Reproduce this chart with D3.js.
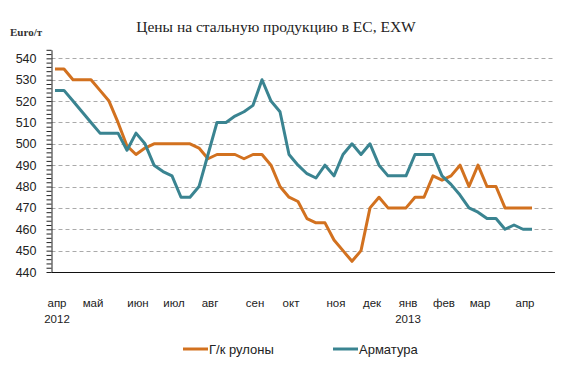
<!DOCTYPE html>
<html>
<head>
<meta charset="utf-8">
<script src="https://cdn.jsdelivr.net/npm/d3@7"></script>
<style>
  body { margin: 0; background: #fff; }
  svg { display: block; }
</style>
</head>
<body>
<script>
const w = 580,
	h = 380;

// weekly prices, apr 2012 - apr 2013
const coils = [535, 535, 530, 530, 530, 525, 520, 510, 499, 495, 498, 500, 500, 500, 500, 500, 498, 493,
	495, 495, 495, 493, 495, 495, 490, 480, 475, 473, 465, 463, 463, 455, 450, 445, 450, 470, 475, 470,
	470, 470, 475, 475, 485, 483, 485, 490, 480, 490, 480, 480, 470, 470, 470, 470];
const rebar = [525, 525, 520, 515, 510, 505, 505, 505, 497, 505, 500, 490, 487, 485, 475, 475, 480, 495,
	510, 510, 513, 515, 518, 530, 520, 515, 495, 490, 486, 484, 490, 485, 495, 500, 495, 500, 490, 485,
	485, 485, 495, 495, 495, 485, 481, 476, 470, 468, 465, 465, 460, 462, 460, 460];

const monthLabels = ['апр', 'май', 'июн', 'июл', 'авг', 'сен', 'окт', 'ноя', 'дек', 'янв', 'фев', 'мар', 'апр'];
const monthWeeks = [0, 4, 9, 13, 17, 22, 26, 31, 35, 39, 43, 47, 52];
const yearLabels = ['2012', '2013'];
const yearWeeks = [0, 39];
const gridValues = [450, 460, 470, 480, 490, 500, 510, 520, 530, 540];

const seriesNames = ['Г/к рулоны', 'Арматура'];
const colors = ['#d2711f', '#3a8491'];

const left = 51.5,
	right = 555,
	bottom = 272;

const svg = d3.select('body')
	.append('svg')
	.attr('width', w)
	.attr('height', h);

const x = d3.scaleLinear()
	.domain([0, coils.length - 1])
	.range([55, 532]);

const y = d3.scaleLinear()
	.domain([440, 544])
	.range([bottom, 49.8]);

//title
svg.append('text')
	.attr('x', 276)
	.attr('y', 32)
	.attr('text-anchor', 'middle')
	.style('font-family', '"Liberation Serif", serif')
	.style('font-size', '15.5px')
	.style('fill', '#222')
	.text('Цены на стальную продукцию в ЕС, EXW');

svg.append('text')
	.attr('x', 10)
	.attr('y', 36)
	.style('font-family', '"Liberation Serif", serif')
	.style('font-size', '11px')
	.style('font-weight', 'bold')
	.style('fill', '#333')
	.text('Euro/т');

//grid lines
svg.append('g')
	.selectAll('line')
	.data(gridValues)
	.enter()
	.append('line')
	.attr('x1', left)
	.attr('x2', right)
	.attr('y1', (d) => Math.round(y(d)) + 0.5)
	.attr('y2', (d) => Math.round(y(d)) + 0.5)
	.attr('stroke', '#aaa')
	.attr('stroke-dasharray', '4,3');

//y axis with minor ticks every 2
const yAxis = d3.axisLeft(y)
	.tickValues(d3.range(440, 545, 2))
	.tickSize(5)
	.tickSizeOuter(0)
	.tickPadding(10)
	.tickFormat((d) => d % 10 === 0 ? d : '');

const gy = svg.append('g')
	.attr('transform', `translate(${left},0)`)
	.call(yAxis);
gy.selectAll('text')
	.style('font-family', '"Liberation Sans", Arial, sans-serif')
	.style('font-size', '12.5px')
	.style('fill', '#222');
gy.selectAll('line, path').attr('stroke', '#222');

//bottom axis line
svg.append('line')
	.attr('x1', left)
	.attr('x2', right)
	.attr('y1', bottom + 0.5)
	.attr('y2', bottom + 0.5)
	.attr('stroke', '#111');

//month labels
svg.append('g')
	.selectAll('text')
	.data(monthLabels)
	.enter()
	.append('text')
	.attr('x', (d, i) => x(monthWeeks[i]) + 2)
	.attr('y', 307)
	.attr('text-anchor', 'middle')
	.style('font-family', '"Liberation Sans", Arial, sans-serif')
	.style('font-size', '11.5px')
	.style('fill', '#222')
	.text((d) => d);

svg.append('g')
	.selectAll('text')
	.data(yearLabels)
	.enter()
	.append('text')
	.attr('x', (d, i) => x(yearWeeks[i]) + 2)
	.attr('y', 323)
	.attr('text-anchor', 'middle')
	.style('font-family', '"Liberation Sans", Arial, sans-serif')
	.style('font-size', '11.5px')
	.style('fill', '#222')
	.text((d) => d);

//lines
const line = d3.line()
	.x((d, i) => x(i))
	.y((d) => y(d));

[coils, rebar].forEach((s, k) => {
	svg.append('path')
		.datum(s)
		.attr('d', line)
		.attr('fill', 'none')
		.attr('stroke', colors[k])
		.attr('stroke-width', 3)
		.attr('stroke-linejoin', 'round');
});

//legend
const legendX = [183, 333];
const lg = svg.append('g')
	.selectAll('g')
	.data(seriesNames)
	.enter()
	.append('g')
	.attr('transform', (d, i) => `translate(${legendX[i]},349)`);

lg.append('line')
	.attr('x1', 0)
	.attr('x2', 25)
	.attr('stroke', (d, i) => colors[i])
	.attr('stroke-width', 3);

lg.append('text')
	.attr('x', 26)
	.attr('y', 5)
	.style('font-family', '"Liberation Sans", Arial, sans-serif')
	.style('font-size', '13px')
	.style('fill', '#222')
	.text((d) => d);
</script>
</body>
</html>
